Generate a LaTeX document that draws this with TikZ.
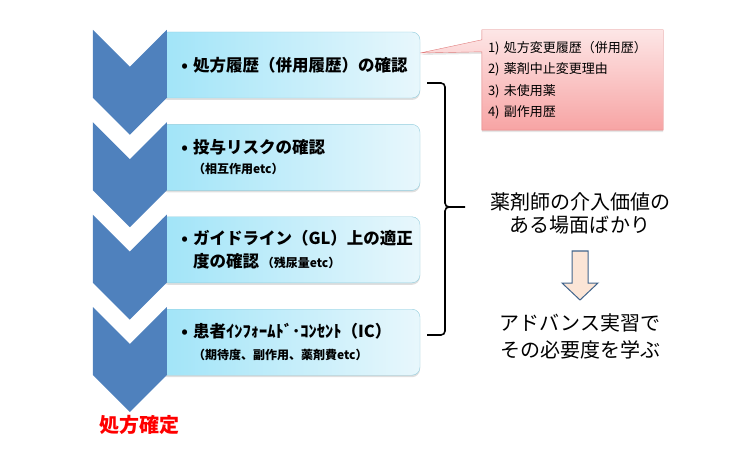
\documentclass[tikz,border=0pt]{standalone}
\usepackage{fontspec}
\setmainfont{Noto Sans CJK JP}
\usepackage{xcolor}
\usepackage{tikz}
\usetikzlibrary{positioning,shadows,backgrounds}
\definecolor{chevblue}{HTML}{4F81BD}
\definecolor{boxleft}{HTML}{A0E4F8}
\definecolor{boxright}{HTML}{E8F7FC}
\definecolor{boxborder}{HTML}{93CDDD}
\definecolor{notetop}{HTML}{FDE6E6}
\definecolor{notebottom}{HTML}{F7A4A4}
\definecolor{noteborder}{HTML}{E07C7C}
\definecolor{arrowfill}{HTML}{FBE5D6}
\definecolor{arrowline}{HTML}{41648C}

\begin{document}
\begin{tikzpicture}[
x=1pt, y=-1pt,
node distance=26pt,
box/.style={
draw=boxborder,
left color=boxleft,
right color=boxright,
rounded corners=8pt,
minimum width=260pt,
minimum height=66pt,
inner sep=0pt,
drop shadow={shadow xshift=0pt,shadow yshift=-2pt,opacity=0.25}
},
boxtext/.style={
align=left,
inner sep=0pt,
font=\fontsize{16.5}{22}\selectfont\bfseries
},
chev/.style={
fill=chevblue
},
note/.style={
minimum width=181pt,
minimum height=100pt,
text width=169pt,
inner sep=6pt,
align=left,
font=\fontsize{13}{21.5}\selectfont
},
notebg/.style={
draw=noteborder,
top color=notetop,
bottom color=notebottom,
drop shadow={shadow xshift=0pt,shadow yshift=-2pt,opacity=0.2}
},
brace/.style={
line width=1.6pt,
rounded corners=4pt
},
bigtext/.style={
align=center,
font=\fontsize{20}{23.5}\selectfont
},
downarrow/.style={
draw=arrowline,
fill=arrowfill,
line width=1pt
},
final/.style={
text=red,
font=\fontsize{20}{24}\selectfont\bfseries
}
]

\useasboundingbox (0,0) rectangle (755,457);

\node[box] (hist) at (290,65) {};

\node[box, below=of hist] (risk) {};

\node[box, below=of risk] (guide) {};

\node[box, below=of guide] (consent) {};

\foreach \b in {hist,risk,guide,consent}
  \fill[chev] ([shift={(7,-2)}]\b.north west) -- ++(-37,37) -- ++(-37,-37)
    -- ++(0,68) -- ++(37,37) -- ++(37,-37) -- cycle;

\node[boxtext, right=33pt of hist.west] (hist-text)
{\llap{•\hspace{5pt}}処方履歴（併用履歴）の確認};

\node[boxtext, right=33pt of risk.west] (risk-text)
{\llap{•\hspace{5pt}}投与リスクの確認\\[-2pt]
{\fontsize{12}{14}\selectfont （相互作用etc）}};

\node[boxtext, right=33pt of guide.west] (guide-text)
{\llap{•\hspace{5pt}}ガイドライン（GL）上の適正\\[1pt]
度の確認\,{\fontsize{12}{14}\selectfont （残尿量etc）}};

\node[boxtext, right=33pt of consent.west] (consent-text)
{\llap{•\hspace{5pt}}患者ｲﾝﾌｫｰﾑﾄﾞ･ｺﾝｾﾝﾄ（IC）\\
{\fontsize{12}{14}\selectfont （期待度、副作用、薬剤費etc）}};

\coordinate (last-tip) at ([shift={(-30,103)}]consent.north west);

\node[final] (fixed) at ([shift={(9.5,13)}]last-tip) {処方確定};

\node[note] (hist-note) at (572.5,80)
{1) 処方変更履歴（併用歴）\\
2) 薬剤中止変更理由\\
3) 未使用薬\\
4) 副作用歴};

\begin{scope}[on background layer]
\draw[notebg] (hist-note.north west) -- (hist-note.north east)
  -- (hist-note.south east) -- (hist-note.south west)
  -- ([shift={(0,22)}]hist-note.north west)
  -- ([shift={(0,-12)}]hist.east)
  -- ([shift={(0,10)}]hist-note.north west) -- cycle;
\end{scope}

\coordinate (brace-top) at (427,83);
\coordinate (brace-mid) at (445,207);
\coordinate (brace-tip) at (465,207);
\coordinate (brace-bottom) at (427,335);

\draw[brace] (brace-top) -| (brace-mid) -- (brace-tip)
  (brace-tip) -- (brace-mid) |- (brace-bottom);

\node[bigtext] (value) at (580,213.5)
{薬剤師の介入価値の\\ある場面ばかり};

\node[bigtext] (study) at (580,336.5)
{アドバンス実習で\\[3pt]その必要度を学ぶ};

\coordinate (arrow-top) at (580,251);

\draw[downarrow] (arrow-top) ++(-8,0) -- ++(16,0) -- ++(0,32) -- ++(10,0)
  -- ++(-18,17) -- ++(-18,-17) -- ++(10,0) -- cycle;

\end{tikzpicture}
\end{document}
